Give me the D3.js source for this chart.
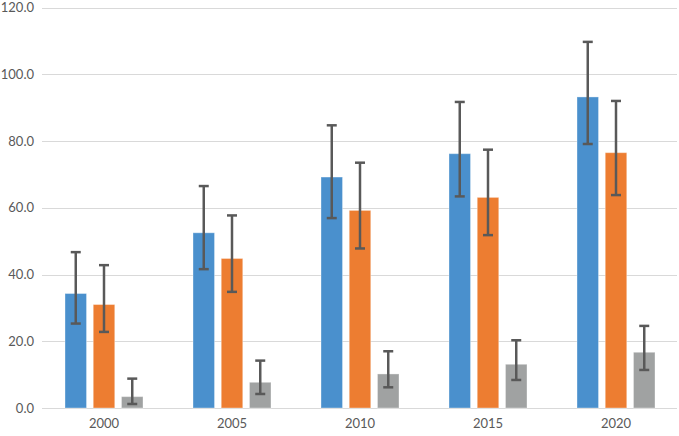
<!DOCTYPE html>
<html>
<head>
<meta charset="utf-8">
<script src="https://cdn.jsdelivr.net/npm/d3@7"></script>
<style>
  body { margin: 0; background: #fff; }
  svg { display: block; }
  text { font-family: Lato, "Open Sans", sans-serif; }
</style>
</head>
<body>
<div id="chart"></div>
<script>
const years = ["2000", "2005", "2010", "2015", "2020"];
const seriesNames = ["A", "B", "C"];
const colors = ["#4a90cd", "#ed7d31", "#a0a2a2"];

const valuesA = [34.3, 52.5, 69.2, 76.2, 93.2];
const valuesB = [31.0, 44.8, 59.2, 63.1, 76.5];
const valuesC = [3.4, 7.7, 10.2, 13.1, 16.7];

const highA = [46.7, 66.5, 84.7, 91.7, 109.7];
const lowA = [25.3, 41.6, 56.9, 63.4, 79.1];
const highB = [42.8, 57.7, 73.5, 77.4, 92.0];
const lowB = [22.8, 34.8, 47.8, 51.8, 63.8];
const highC = [8.8, 14.2, 17.0, 20.3, 24.6];
const lowC = [1.2, 4.2, 6.2, 8.4, 11.4];

const yTicks = [0, 20, 40, 60, 80, 100, 120];

const width = 679, height = 436;

const values = [valuesA, valuesB, valuesC];
const highs = [highA, highB, highC];
const lows = [lowA, lowB, lowC];

let data = [];
years.forEach((year, i) => {
    seriesNames.forEach((s, j) => {
        data.push({year: year, series: s, idx: j, value: values[j][i], high: highs[j][i], low: lows[j][i]});
    });
});

let svg = d3.select("#chart")
    .append("svg")
    .attr("width", width)
    .attr("height", height);

let x = d3.scaleBand()
    .domain(years)
    .range([40, 680]);

let xInner = d3.scaleBand()
    .domain(seriesNames)
    .range([-39, 39])
    .paddingInner(0.238);

let y = d3.scaleLinear()
    .domain([0, 120])
    .range([408, 7.5]);

// gridlines
svg.selectAll("gridLine")
    .data(yTicks)
    .enter()
    .append("line")
    .attr("x1", 42)
    .attr("x2", 677)
    .attr("y1", d => Math.round(y(d)) + 0.5)
    .attr("y2", d => Math.round(y(d)) + 0.5)
    .attr("stroke", "#d9d9d9")
    .attr("stroke-width", 1);

// y labels
svg.selectAll("yLabel")
    .data(yTicks)
    .enter()
    .append("text")
    .attr("x", 34)
    .attr("y", d => y(d))
    .attr("dy", "0.35em")
    .attr("text-anchor", "end")
    .attr("font-size", 13)
    .attr("fill", "#595959")
    .text(d => d.toFixed(1));

// x labels
svg.selectAll("xLabel")
    .data(years)
    .enter()
    .append("text")
    .attr("x", d => x(d) + x.bandwidth() / 2)
    .attr("y", 428)
    .attr("text-anchor", "middle")
    .attr("font-size", 13)
    .attr("fill", "#595959")
    .text(d => d);

// bars
svg.selectAll("bar")
    .data(data)
    .enter()
    .append("rect")
    .attr("x", d => x(d.year) + x.bandwidth() / 2 + xInner(d.series))
    .attr("width", xInner.bandwidth())
    .attr("y", d => y(d.value))
    .attr("height", d => y(0) - y(d.value))
    .attr("fill", d => colors[d.idx])
    .attr("stroke", "#ffffff")
    .attr("stroke-opacity", 0.35)
    .attr("stroke-width", 1);

// error bars
const cx = d => x(d.year) + x.bandwidth() / 2 + xInner(d.series) + xInner.bandwidth() / 2;
const capHalf = 5;

svg.selectAll("errLine")
    .data(data)
    .enter()
    .append("line")
    .attr("x1", cx)
    .attr("x2", cx)
    .attr("y1", d => y(d.high))
    .attr("y2", d => y(d.low))
    .attr("stroke", "#595959")
    .attr("stroke-width", 2.5);

svg.selectAll("errCapTop")
    .data(data)
    .enter()
    .append("line")
    .attr("x1", d => cx(d) - capHalf)
    .attr("x2", d => cx(d) + capHalf)
    .attr("y1", d => y(d.high))
    .attr("y2", d => y(d.high))
    .attr("stroke", "#595959")
    .attr("stroke-width", 2.5);

svg.selectAll("errCapBottom")
    .data(data)
    .enter()
    .append("line")
    .attr("x1", d => cx(d) - capHalf)
    .attr("x2", d => cx(d) + capHalf)
    .attr("y1", d => y(d.low))
    .attr("y2", d => y(d.low))
    .attr("stroke", "#595959")
    .attr("stroke-width", 2.5);
</script>
</body>
</html>
